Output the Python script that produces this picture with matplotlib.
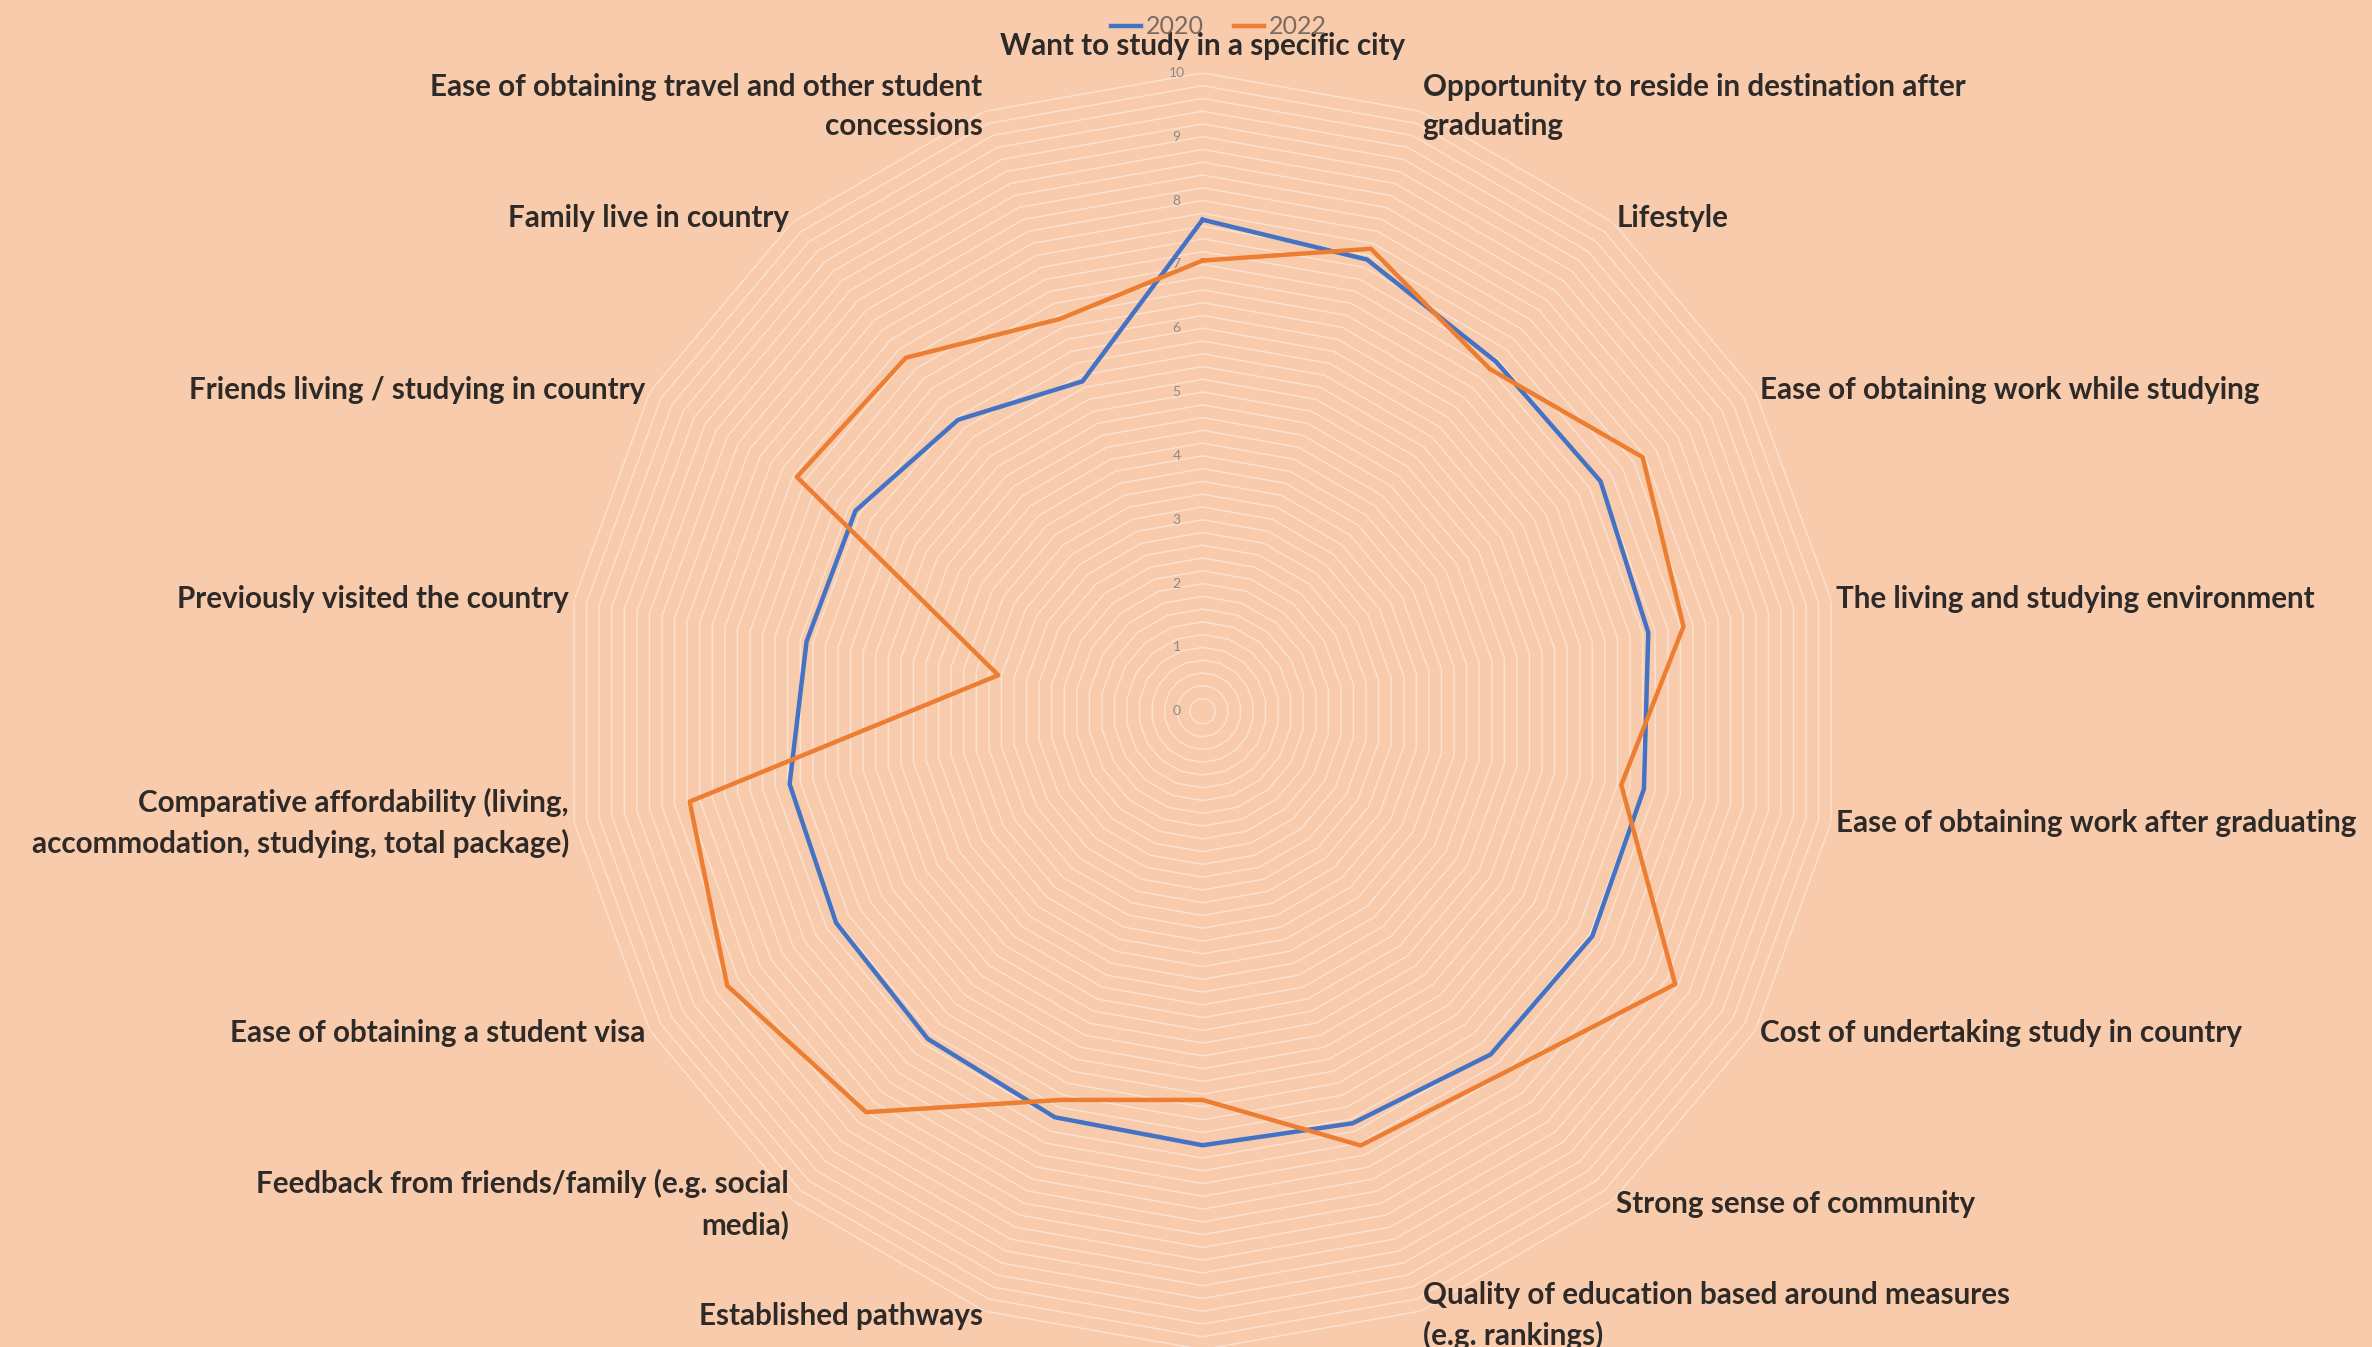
import numpy as np
import matplotlib
matplotlib.use("Agg")
import matplotlib.pyplot as plt

# categories, clockwise from the top (the one at the bottom is cut off in the source)
categories = [
    "Want to study in a specific city",
    "Opportunity to reside in destination after\ngraduating",
    "Lifestyle",
    "Ease of obtaining work while studying",
    "The living and studying environment",
    "Ease of obtaining work after graduating",
    "Cost of undertaking study in country",
    "Strong sense of community",
    "Quality of education based around measures\n(e.g. rankings)",
    "",
    "Established pathways",
    "Feedback from friends/family (e.g. social\nmedia)",
    "Ease of obtaining a student visa",
    "Comparative affordability (living,\naccommodation, studying, total package)",
    "Previously visited the country",
    "Friends living / studying in country",
    "Family live in country",
    "Ease of obtaining travel and other student\nconcessions",
]

values_2020 = [7.7, 7.53, 7.15, 7.2, 7.09, 7.02, 7.05, 7.02, 6.87,
               6.8, 6.77, 6.7, 6.63, 6.57, 6.3, 6.28, 5.96, 5.5]
values_2022 = [7.06, 7.71, 7.0, 7.96, 7.65, 6.66, 8.55, 7.38, 7.24,
               6.09, 6.48, 8.2, 8.6, 8.16, 3.25, 7.34, 7.23, 6.54]

series_names = ["2020", "2022"]
tick_values = list(range(0, 11))

bg = "#F8CBAD"
colors = ["#4472C4", "#ED7D31"]
label_color = "#2e2a28"
fonts = ["Lato", "DejaVu Sans"]

fig = plt.figure(figsize=(23.72, 13.47), dpi=100)
fig.patch.set_facecolor(bg)

ax = fig.add_axes([0.2379, -0.0022, 0.5382, 0.9484], projection="polar")
ax.set_facecolor("none")
ax.set_theta_zero_location("N")
ax.set_theta_direction(-1)
ax.set_ylim(0, 10)
ax.grid(False)
ax.spines["polar"].set_visible(False)
ax.set_xticks([])
ax.set_yticks([])

n = len(categories)
angles = np.arange(n) * 2 * np.pi / n
closed = np.append(angles, angles[0])

# polygon gridlines (major every 1, minor every 0.2)
for r in np.arange(0.2, 10.01, 0.2):
    ax.plot(closed, [r] * (n + 1), color="white", lw=1.0, alpha=0.45, zorder=1)

# value axis labels
for v in tick_values:
    ax.annotate(str(v), xy=(0, v), xytext=(-26, 0), textcoords="offset pixels",
                ha="center", va="center", fontsize=10, color="#8a8a8a", family=fonts)

# series
for vals, name, c in zip([values_2020, values_2022], series_names, colors):
    ax.plot(closed, vals + vals[:1], color=c, lw=3.2, label=name, zorder=3)

# category labels
for ang, lab in zip(angles, categories):
    deg = np.rad2deg(ang)
    if abs(deg) < 1:
        r, ha, va = 10.2, "center", "bottom"
    elif abs(deg - 180) < 1:
        r, ha, va = 10.2, "center", "top"
    else:
        r, ha, va = 10.08, ("left" if deg < 180 else "right"), "center"
    ax.text(ang, r, lab, ha=ha, va=va, multialignment=ha,
            fontsize=21.3, fontweight="bold", color=label_color,
            family=fonts, linespacing=1.5)

leg = fig.legend(loc="center", bbox_to_anchor=(0.514, 0.98), ncol=2, frameon=False,
                 handlelength=1.2, columnspacing=1.2, handletextpad=0.2,
                 prop={"family": fonts, "size": 18})
for txt in leg.get_texts():
    txt.set_color("#7a6a60")

fig.savefig("out.png", dpi=100, facecolor=bg)
